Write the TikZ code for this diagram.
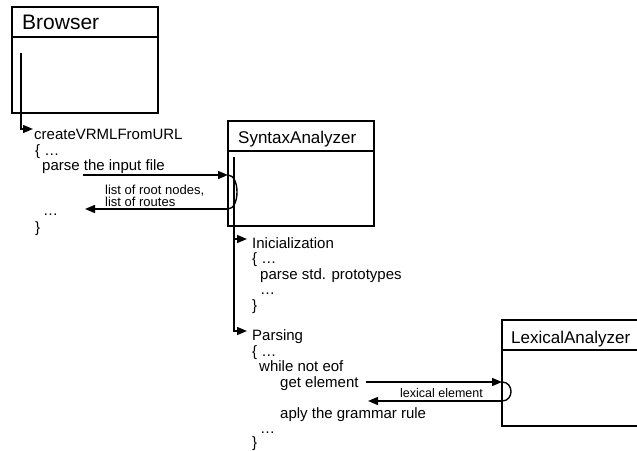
\documentclass[tikz,border=0pt]{standalone}
\usepackage{fontspec}
\setmainfont{Liberation Sans}
\usetikzlibrary{arrows.meta, calc}
\tikzset{
    every node/.style={font=\fontsize{15}{15.5}\selectfont},
    objbox/.style={draw, line width=1.8pt, rectangle, minimum width=146pt, minimum height=106pt, anchor=north west, outer sep=0pt, inner sep=0pt},
    boxtitle/.style={anchor=base west, inner sep=0pt, font=\fontsize{17}{17}\selectfont},
    code/.style={anchor=base west, inner sep=0pt},
    note/.style={anchor=base west, inner sep=0pt, font=\fontsize{13}{12}\selectfont},
    msgline/.style={line width=1.4pt},
    arrow/.style={-{Triangle[length=10pt, width=8pt]}, line width=1.4pt},
}
\begin{document}
\begin{tikzpicture}[x=1pt, y=-1pt]
\useasboundingbox (0,0) rectangle (637,450);
% the three objects, lexical one runs past the right edge
\node[objbox] (browser) at (12,7) {};
\node[objbox, minimum height=105pt] (syntax) at (228,121) {};
\node[objbox] (lexical) at (502,320) {};
\node[boxtitle, font=\fontsize{21}{21}\selectfont] (browsertitle) at (22,29) {Browser};
\node[boxtitle] (syntaxtitle) at (238,143) {SyntaxAnalyzer};
\node[boxtitle] (lexicaltitle) at (511,343) {LexicalAnalyzer};
\foreach \b in {browser, syntax, lexical}
    \draw[line width=1.8pt] ([yshift=-30pt]\b.north west) -- ([yshift=-30pt]\b.north east);
% createVRMLFromURL
\node[code] (create) at (34,139) {createVRMLFromURL};
\node[code] (open1) at (35,155) {\{ …};
\node[code] (parse) at (42,170) {parse the input file};
\node[code] (dots1) at (43,215) {…};
\node[code] (close1) at (35,232) {\}};
% Inicialization
\node[code] (init) at (252,248) {Inicialization};
\node[code] (open2) at (252,263.5) {\{ …};
\node[code] (protos) at (260,279) {parse std. prototypes};
\node[code] (dots2) at (260,294.5) {…};
\node[code] (close2) at (252,310) {\}};
% Parsing
\node[code] (parsing) at (252,340) {Parsing};
\node[code] (open3) at (252,356) {\{ …};
\node[code] (whilenot) at (259,371.5) {while not eof};
\node[code] (getel) at (280,387) {get element};
\node[code] (aply) at (280,418) {aply the grammar rule};
\node[code] (dots3) at (260,433) {…};
\node[code] (close3) at (252,447) {\}};
% labels of the returns
\node[note] (roots) at (105,194) {list of root nodes,};
\node[note] (routes) at (105,206.5) {list of routes};
\node[note, font=\fontsize{12.5}{12}\selectfont] (lexel) at (400,397) {lexical element};
% life lines
\coordinate (browserlife) at (21,53);
\coordinate (syntaxlife) at (234,157);
\draw[arrow] (browserlife) |- ([shift={(-1pt,10pt)}]create.base west);
\draw[arrow] (syntaxlife) |- ([shift={(-5pt,9pt)}]init.base west);
\draw[arrow] (syntaxlife) |- ([shift={(-5pt,9pt)}]parsing.base west);
% browser calls the syntax analyzer
\coordinate (parsecall) at (83,175);
\coordinate (parseback) at (85,209);
\draw[arrow] (parsecall) -- (parsecall -| syntax.west);
\draw[msgline] (parsecall -| syntax.west) .. controls +(12,0) and +(12,0) .. (parseback -| syntax.west);
\draw[arrow] (parseback -| syntax.west) -- (parseback);
% syntax analyzer asks the lexical one
\coordinate (getcall) at (366,382);
\coordinate (getback) at (368,401);
\draw[arrow] (getcall) -- (getcall -| lexical.west);
\draw[msgline] (getcall -| lexical.west) .. controls +(12,0) and +(12,0) .. (getback -| lexical.west);
\draw[arrow] (getback -| lexical.west) -- (getback);
\end{tikzpicture}
\end{document}
